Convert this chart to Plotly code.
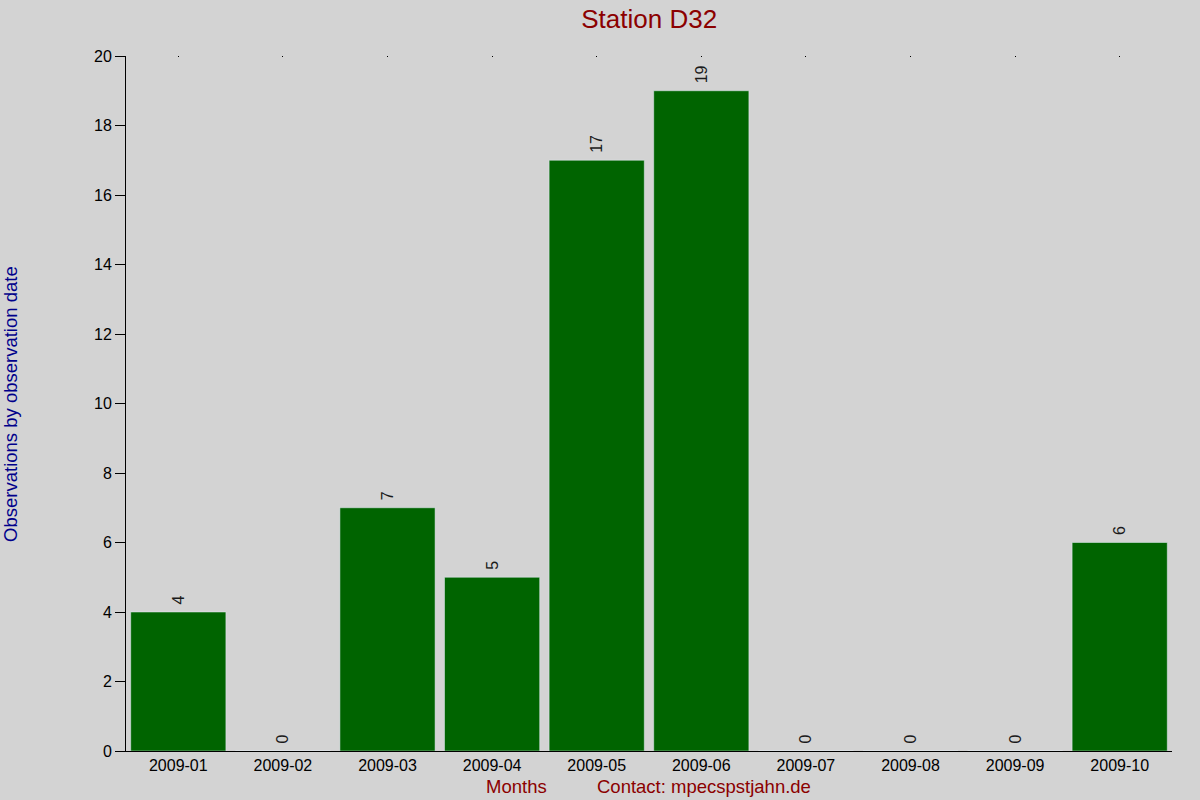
import plotly.graph_objects as go

MONTHS = ["2009-01", "2009-02", "2009-03", "2009-04", "2009-05",
          "2009-06", "2009-07", "2009-08", "2009-09", "2009-10"]
COUNTS = [4, 0, 7, 5, 17, 19, 0, 0, 0, 6]
Y_TICKS = [0, 2, 4, 6, 8, 10, 12, 14, 16, 18, 20]

BG = "#d3d3d3"
FONT = "Liberation Sans, Arial, sans-serif"

fig = go.Figure()

fig.add_trace(go.Bar(
    x=MONTHS, y=COUNTS,
    marker=dict(color="#006400", line=dict(width=0)),
    # nbsp in front lifts the rotated label a bit off the bar top
    text=["\u00a0" + str(v) for v in COUNTS],
    textposition="outside",
    textangle=-90,
    textfont=dict(size=16, color="#1a1a1a", family=FONT),
    cliponaxis=False,
    showlegend=False,
))

# invisible copy on a top axis, only to get the little tick dots up there
fig.add_trace(go.Bar(
    x=MONTHS, y=COUNTS, xaxis="x2",
    marker=dict(color="rgba(0,0,0,0)"),
    hoverinfo="skip", showlegend=False,
))

fig.update_layout(
    width=1200, height=800,
    paper_bgcolor=BG, plot_bgcolor=BG,
    margin=dict(l=126, r=28, t=56, b=49),
    bargap=0.09,
    font=dict(family=FONT, size=16, color="black"),
    title=dict(text="Station D32", x=0.5410, xanchor="center", y=0.977, yanchor="middle",
               font=dict(size=26, color="#8b0000")),
    xaxis=dict(
        type="category", showline=True, linecolor="black", linewidth=1,
        ticks="", showgrid=False, tickfont=dict(size=16),
    ),
    xaxis2=dict(
        type="category", overlaying="x", side="top", matches="x",
        ticks="inside", ticklen=1, tickwidth=1, tickcolor="black",
        showticklabels=False, showline=False, showgrid=False,
    ),
    yaxis=dict(
        range=[0, 20], tickvals=Y_TICKS, showline=True, linecolor="black", linewidth=1,
        ticks="outside", ticklen=10, tickcolor="black", showgrid=False, zeroline=False,
        tickfont=dict(size=16),
    ),
    annotations=[
        dict(text="Observations by observation date", xref="paper", yref="paper",
             x=-0.1105, y=0.5, textangle=-90, showarrow=False, xanchor="center", yanchor="middle",
             font=dict(size=18.5, color="#00008b")),
        dict(text="Months", xref="paper", yref="paper", x=0.373, y=-0.0505,
             showarrow=False, xanchor="center", yanchor="middle",
             font=dict(size=18.5, color="#8b0000")),
        dict(text="Contact: mpecspstjahn.de", xref="paper", yref="paper", x=0.5526, y=-0.0505,
             showarrow=False, xanchor="center", yanchor="middle",
             font=dict(size=18.5, color="#8b0000")),
    ],
)

fig.write_html("out.html", config={"displayModeBar": False},
               post_script="document.body.style.margin='0';")
